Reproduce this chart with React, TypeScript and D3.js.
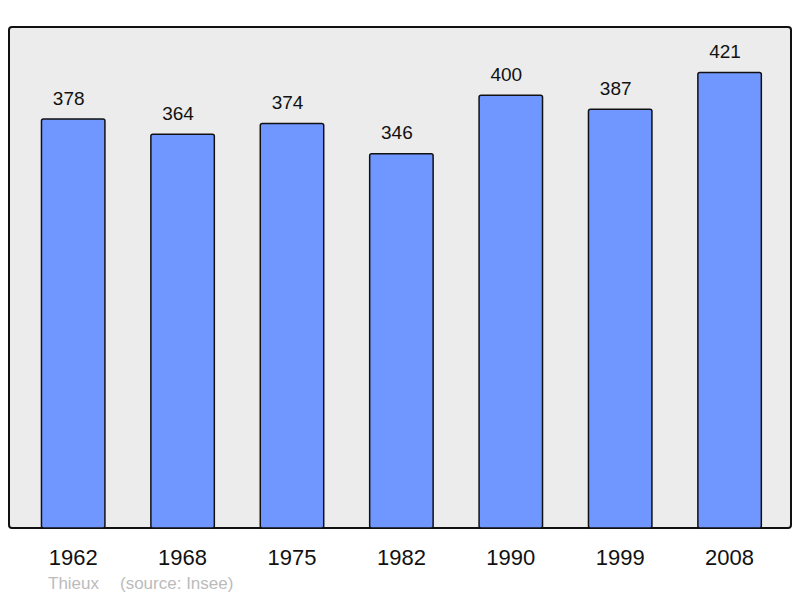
import * as d3 from 'd3'

const years = ['1962', '1968', '1975', '1982', '1990', '1999', '2008']
const population = [378, 364, 374, 346, 400, 387, 421]
const commune = 'Thieux'
const sourceNote = '(source: Insee)'

const W = 800
const H = 598
const frame = { x: 9, y: 27, w: 782, h: 501 }

export default function App() {
  const x = d3.scaleBand<string>().domain(years).range([18.5, 784.3]).padding(0)
  const barW = x.bandwidth() * 0.58
  const y = d3
    .scaleLinear()
    .domain([0, d3.max(population)! * 1.1])
    .range([frame.y + frame.h, frame.y])

  return (
    <svg
      width={W}
      height={H}
      style={{ position: 'absolute', left: 0, top: 0, fontFamily: '"Liberation Sans", Arial, sans-serif' }}
    >
      <rect width={W} height={H} fill="#ffffff" />
      <rect
        x={frame.x}
        y={frame.y}
        width={frame.w}
        height={frame.h}
        rx={3}
        fill="#ececec"
        stroke="#111"
        strokeWidth={2}
      />
      {years.map((yr, i) => {
        const cx = x(yr)! + x.bandwidth() / 2
        const top = y(population[i])
        return (
          <g key={yr}>
            <rect
              x={cx - barW / 2}
              y={top}
              width={barW}
              height={frame.y + frame.h - top}
              rx={2}
              fill="#7096ff"
              stroke="#111"
              strokeWidth={1.5}
            />
            <text x={cx - 4.5} y={top - 14.5} textAnchor="middle" fontSize={19} fill="#111">
              {population[i]}
            </text>
            <text x={cx} y={565} textAnchor="middle" fontSize={22} fill="#111">
              {yr}
            </text>
          </g>
        )
      })}
      <text x={48} y={589} fontSize={17} fill="#bbbbbb">
        {commune}
      </text>
      <text x={120} y={589} fontSize={17} fill="#bbbbbb">
        {sourceNote}
      </text>
    </svg>
  )
}
